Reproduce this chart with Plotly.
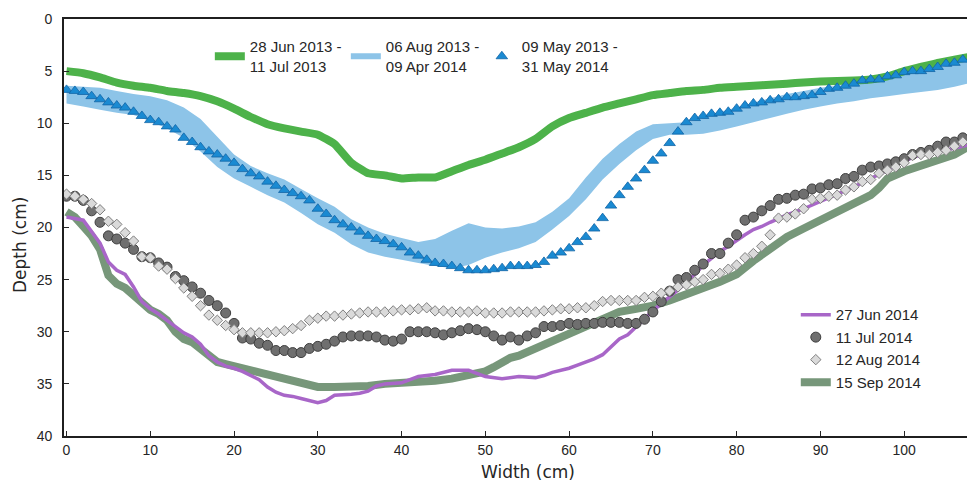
import plotly.graph_objects as go

# ---------------- data ----------------
# 2013 green line (28 Jun 2013 - 11 Jul 2013)
g13_x = [0, 2, 4, 6, 8, 10, 12, 14, 16, 18, 20, 22, 24, 26, 28, 30, 32, 34, 36, 38,
         40, 42, 44, 46, 48, 50, 52, 54, 56, 58, 60, 62, 64, 66, 68, 70, 72, 74, 76, 78,
         80, 82, 84, 86, 88, 90, 92, 94, 96, 98, 100, 102, 104, 106, 108]
g13_y = [5.0, 5.2, 5.6, 6.1, 6.4, 6.6, 6.9, 7.1, 7.4, 7.9, 8.6, 9.4, 10.1, 10.5, 10.8, 11.1, 12.0, 13.8, 14.8, 15.0,
         15.3, 15.2, 15.2, 14.6, 14.0, 13.5, 12.9, 12.3, 11.5, 10.3, 9.5, 9.0, 8.5, 8.1, 7.7, 7.3, 7.1, 6.9, 6.8, 6.6,
         6.5, 6.4, 6.3, 6.2, 6.1, 6.0, 5.95, 5.9, 5.8, 5.5, 5.0, 4.6, 4.2, 3.9, 3.6]

# band (06 Aug 2013 - 09 Apr 2014): upper (shallow) and lower (deep) edges
band_x = [0, 2, 4, 6, 8, 10, 12, 14, 16, 18, 20, 22, 24, 26, 28, 30, 32, 34, 36, 38,
          40, 42, 44, 46, 48, 50, 52, 54, 56, 58, 60, 62, 64, 66, 68, 70, 72, 74, 76, 78,
          80, 82, 84, 86, 88, 90, 92, 94, 96, 98, 100, 102, 104, 106, 108]
band_top = [6.4, 6.5, 6.6, 6.9, 7.2, 7.4, 7.8, 8.5, 9.6, 11.3, 13.0, 14.1, 14.8, 15.4, 16.3, 17.2, 18.0, 19.2, 20.0, 20.6,
            21.0, 21.4, 21.1, 20.3, 19.6, 20.0, 20.1, 19.9, 19.5, 18.5, 17.2, 15.2, 13.4, 12.0, 10.8, 10.1, 10.0, 9.9, 9.5, 8.9,
            8.5, 8.0, 7.6, 7.2, 6.9, 6.6, 6.4, 6.2, 5.9, 5.6, 5.3, 5.0, 4.7, 4.3, 3.9]
band_bottom = [8.1, 8.4, 8.7, 9.0, 9.2, 9.8, 10.5, 11.4, 12.7, 14.2, 15.3, 16.1, 16.9, 17.6, 18.6, 19.7, 20.5, 21.6, 22.4, 22.8,
               23.1, 23.4, 23.7, 23.9, 23.6, 22.9, 22.4, 22.0, 21.4, 20.2, 18.9, 17.3, 15.4, 13.9, 12.6, 11.5, 11.1, 11.1, 11.0, 10.7,
               10.3, 9.9, 9.5, 9.1, 8.7, 8.4, 8.1, 7.9, 7.6, 7.4, 7.2, 7.0, 6.8, 6.5, 6.1]

# marker series sampled every 1 cm
mk_x = list(range(108))
tri_y = [6.8, 6.9, 7.0, 7.4, 7.7, 8.0, 8.3, 8.5, 8.9, 9.3,
         9.7, 9.9, 10.3, 10.6, 11.4, 11.8, 12.3, 12.7, 13.0, 13.4,
         13.8, 14.4, 14.8, 15.1, 15.6, 16.0, 16.4, 16.7, 17.0, 17.4,
         18.2, 18.7, 19.3, 19.7, 20.0, 20.4, 20.8, 21.1, 21.3, 21.6,
         21.9, 22.4, 22.7, 23.1, 23.4, 23.5, 23.7, 23.9, 24.1, 24.1,
         24.1, 24.0, 23.9, 23.7, 23.7, 23.7, 23.6, 23.3, 22.7, 22.4,
         22.0, 21.4, 20.9, 20.1, 19.1, 17.9, 16.9, 16.1, 15.3, 14.5,
         13.6, 12.9, 11.9, 10.8, 9.9, 9.5, 9.3, 9.1, 9.0, 8.9,
         8.6, 8.3, 8.1, 8.0, 7.8, 7.7, 7.5, 7.5, 7.4, 7.3,
         7.0, 6.7, 6.6, 6.4, 6.2, 5.9, 5.8, 5.8, 5.5, 5.4,
         5.1, 5.0, 5.0, 4.8, 4.6, 4.3, 4.2, 3.9]

circ_y = [17.0, 17.0, 17.4, 18.4, 19.5, 20.8, 21.1, 21.5, 22.1, 22.8,
          22.9, 23.4, 23.8, 24.7, 25.1, 25.7, 26.3, 27.0, 27.5, 28.2,
          29.2, 30.6, 30.7, 31.1, 31.3, 31.8, 31.8, 32.0, 32.0, 31.6,
          31.4, 31.2, 30.9, 30.5, 30.4, 30.4, 30.4, 30.5, 30.8, 30.9,
          30.7, 30.0, 30.0, 30.0, 30.1, 30.3, 30.1, 29.9, 29.7, 29.8,
          30.0, 30.4, 30.8, 30.5, 30.8, 30.4, 30.1, 29.5, 29.5, 29.4,
          29.2, 29.3, 29.2, 29.2, 29.1, 29.1, 29.1, 29.2, 29.2, 28.8,
          28.1, 27.1, 26.1, 25.0, 24.8, 24.1, 23.5, 22.5, 22.5, 21.5,
          20.7, 19.3, 19.0, 18.4, 17.9, 17.3, 17.2, 16.9, 16.8, 16.3,
          16.2, 15.9, 15.8, 15.3, 15.1, 14.5, 14.2, 14.1, 13.9, 13.7,
          13.4, 13.0, 12.8, 12.6, 12.2, 11.8, 11.8, 11.4]

diam_y = [16.8, 17.0, 17.3, 17.7, 18.3, 19.4, 19.7, 20.5, 21.3, 22.8,
          22.9, 23.7, 24.0, 24.9, 25.8, 26.6, 27.5, 28.4, 28.9, 29.4,
          29.8, 30.1, 30.1, 30.1, 30.1, 30.0, 29.9, 29.7, 29.4, 28.9,
          28.7, 28.5, 28.5, 28.4, 28.3, 28.2, 28.1, 28.1, 28.1, 28.0,
          27.9, 27.9, 27.8, 27.7, 28.0, 28.0, 28.1, 28.1, 28.1, 28.0,
          28.2, 28.2, 28.2, 28.1, 28.1, 28.1, 28.1, 28.0, 27.9, 27.8,
          27.8, 27.7, 27.7, 27.5, 27.1, 27.0, 27.0, 27.0, 27.0, 26.7,
          26.6, 26.3, 26.1, 25.7, 25.5, 25.2, 25.0, 24.5, 24.4, 24.0,
          23.6, 22.9, 22.5, 21.8, 20.7, 19.1, 19.0, 18.7, 18.2, 17.3,
          17.2, 17.0, 16.9, 16.4, 16.1, 15.6, 15.4, 14.8, 14.5, 14.2,
          13.8, 13.1, 13.0, 13.0, 12.8, 12.6, 12.2, 11.8]

# 27 Jun 2014 purple line
pur_x = [0, 2, 4, 5, 6, 7, 8, 9, 10, 11, 12, 13, 14, 15, 16, 17, 18, 19, 20, 21,
         22, 23, 24, 25, 26, 27, 28, 29, 30, 31, 32, 34, 35, 36, 37, 38, 40, 41, 42, 44,
         45, 46, 48, 49, 50, 52, 53, 54, 56, 57, 58, 60, 61, 63, 64, 65, 66, 67, 68, 69,
         70, 71, 72, 73, 74, 75, 76, 77, 78, 79, 80, 81, 82, 83, 84, 86, 88, 90, 92, 94,
         96, 98, 100, 101, 102, 104, 106, 108]
pur_y = [19.0, 19.3, 21.5, 23.3, 24.1, 24.5, 25.7, 27.1, 27.8, 28.3, 28.9, 29.5, 30.1, 30.5, 31.2, 32.3, 32.9, 33.3, 33.5, 33.8,
         34.2, 34.6, 35.3, 35.8, 36.1, 36.2, 36.4, 36.6, 36.8, 36.6, 36.1, 36.0, 35.9, 35.7, 35.2, 35.0, 34.9, 34.6, 34.3, 34.1,
         33.9, 33.7, 33.7, 34.0, 34.3, 34.5, 34.4, 34.3, 34.4, 34.2, 33.9, 33.5, 33.2, 32.6, 32.2, 31.4, 30.7, 30.3, 29.5, 28.7,
         28.0, 27.3, 26.7, 26.0, 25.2, 24.5, 23.6, 22.9, 22.3, 21.8, 21.2, 20.7, 20.2, 19.9, 19.5, 18.8, 18.2, 17.5, 16.8, 16.1,
         15.3, 14.5, 13.6, 13.3, 13.0, 12.7, 12.4, 12.0]

# 15 Sep 2014 olive line
oli_x = [0, 1, 2, 3, 4, 5, 6, 7, 8, 9, 10, 11, 12, 13, 14, 15, 16, 17, 18, 19,
         20, 22, 24, 26, 28, 30, 32, 34, 36, 38, 40, 42, 44, 46, 48, 50, 51, 52, 53, 54,
         56, 58, 60, 62, 64, 66, 68, 70, 72, 74, 76, 78, 80, 82, 84, 86, 88, 90, 92, 94,
         96, 97, 98, 100, 102, 104, 106, 108]
oli_y = [18.5, 19.0, 19.9, 20.8, 22.1, 24.6, 25.4, 25.8, 26.5, 27.2, 27.9, 28.3, 28.9, 30.0, 30.7, 31.0, 31.6, 32.3, 32.9, 33.1,
         33.3, 33.7, 34.1, 34.6, 34.9, 35.3, 35.3, 35.3, 35.2, 35.0, 34.9, 34.9, 34.7, 34.5, 34.2, 33.8, 33.4, 32.9, 32.5, 32.3,
         31.6, 30.8, 30.1, 29.5, 28.8, 28.1, 27.8, 27.5, 27.0, 26.3, 25.8, 25.2, 24.5, 23.2, 22.0, 20.9, 20.1, 19.3, 18.5, 17.7,
         16.9, 16.2, 15.3, 14.6, 14.0, 13.5, 13.0, 12.1]

x_ticks = [0, 10, 20, 30, 40, 50, 60, 70, 80, 90, 100]
y_ticks = [0, 5, 10, 15, 20, 25, 30, 35, 40]

# ---------------- figure ----------------
FONT = "Liberation Sans, Arial, sans-serif"
TFONT = "DejaVu Sans, Verdana, sans-serif"
fig = go.Figure()

# band as closed polygon
fig.add_trace(go.Scatter(
    x=band_x + band_x[::-1], y=band_top + band_bottom[::-1],
    fill="toself", fillcolor="#8DC4E8", mode="none",
    name="06 Aug 2013 -<br>09 Apr 2014", legend="legend", legendrank=2))

fig.add_trace(go.Scatter(
    x=g13_x, y=g13_y, mode="lines", line=dict(color="#4DB24A", width=8, shape="spline", smoothing=0.4),
    name="28 Jun 2013 -<br>11 Jul 2013", legend="legend", legendrank=1))

fig.add_trace(go.Scatter(
    x=mk_x, y=tri_y, mode="markers",
    marker=dict(symbol="triangle-up", size=10, color="#1A8AD2", line=dict(color="#1264A6", width=0.8)),
    name="09 May 2013 -<br>31 May 2014", legend="legend", legendrank=3))

fig.add_trace(go.Scatter(
    x=oli_x, y=oli_y, mode="lines", line=dict(color="#77977A", width=8),
    name="15 Sep 2014", legend="legend2", legendrank=4))

fig.add_trace(go.Scatter(
    x=pur_x, y=pur_y, mode="lines", line=dict(color="#A866C8", width=3.5),
    name="27 Jun 2014", legend="legend2", legendrank=1))

fig.add_trace(go.Scatter(
    x=mk_x, y=circ_y, mode="markers",
    marker=dict(symbol="circle", size=10, color="#6F6F6F", line=dict(color="#3F3F3F", width=1)),
    name="11 Jul 2014", legend="legend2", legendrank=2))

fig.add_trace(go.Scatter(
    x=mk_x, y=diam_y, mode="markers",
    marker=dict(symbol="diamond", size=8, color="#DADADA", line=dict(color="#7F7F7F", width=1)),
    name="12 Aug 2014", legend="legend2", legendrank=3))

axis_common = dict(
    showline=True, linecolor="#1F1F1F", linewidth=1.8, ticks="inside", ticklen=5,
    tickcolor="#262626", showgrid=False, zeroline=False,
    tickfont=dict(family=FONT, size=14, color="#262626"), automargin=False)

fig.update_layout(
    width=967, height=486,
    margin=dict(l=64, r=0, t=19, b=50),
    paper_bgcolor="white", plot_bgcolor="white",
    xaxis=dict(range=[-0.3, 107.5], tickvals=x_ticks, mirror=True, **axis_common),
    yaxis=dict(range=[40, 0], tickvals=y_ticks, ticklabelstandoff=7, **axis_common),
    legend=dict(orientation="h", x=0.1615, y=0.973, xanchor="left", yanchor="top",
                font=dict(family=FONT, size=15, color="#262626"), bgcolor="rgba(0,0,0,0)",
                entrywidth=91, entrywidthmode="pixels", traceorder="normal"),
    legend2=dict(orientation="v", x=0.8104, y=0.33, xanchor="left", yanchor="top",
                 font=dict(family=FONT, size=15, color="#262626"), bgcolor="rgba(0,0,0,0)",
                 traceorder="normal"),
    showlegend=True,
    annotations=[
        dict(text="Width (cm)", xref="paper", yref="paper", x=0.514, y=-0.0863,
             xanchor="center", yanchor="middle", showarrow=False,
             font=dict(family=TFONT, size=17, color="#262626")),
        dict(text="Depth (cm)", xref="paper", yref="paper", x=-0.0487, y=0.458,
             xanchor="center", yanchor="middle", showarrow=False, textangle=-90,
             font=dict(family=TFONT, size=17, color="#262626")),
    ],
)

fig.write_html("out.html", config={"displayModeBar": False},
               post_script="document.body.style.margin='0px';document.body.style.overflow='hidden';")
